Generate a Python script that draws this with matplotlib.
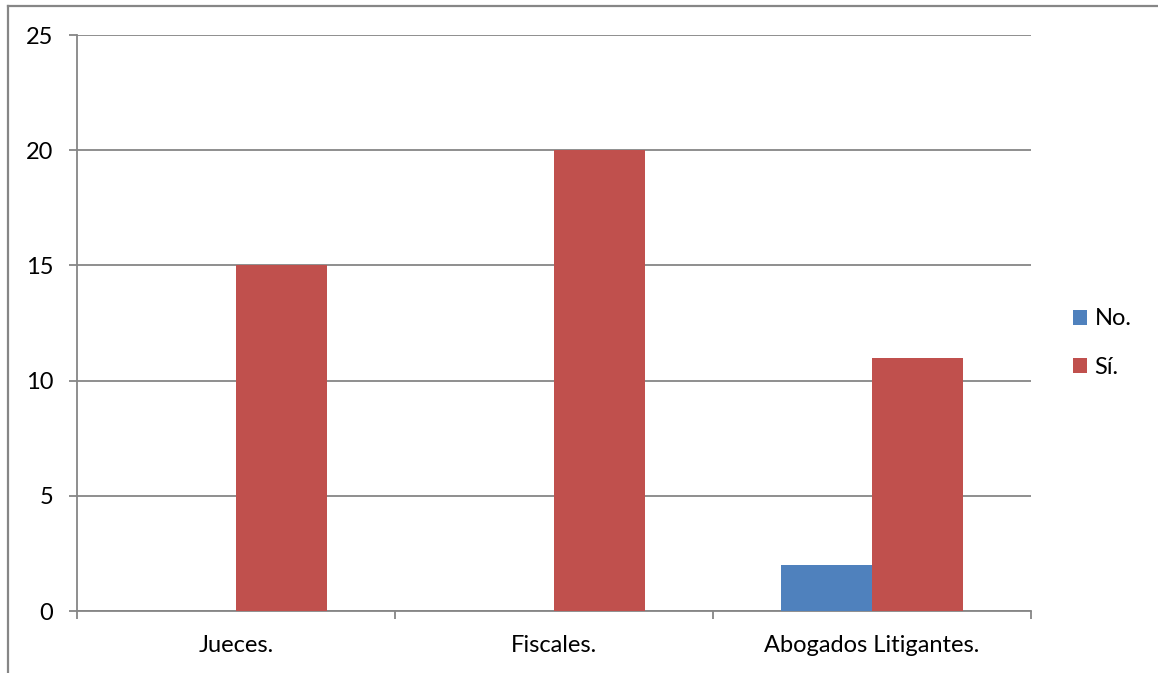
import matplotlib
matplotlib.use("Agg")
import matplotlib.pyplot as plt
from matplotlib.lines import Line2D
from matplotlib.patches import Patch
import numpy as np

categories = ["Jueces.", "Fiscales.", "Abogados Litigantes."]
series_names = ["No.", "Sí."]
no_values = [0, 0, 2]
si_values = [15, 20, 11]
y_ticks = [0, 5, 10, 15, 20, 25]

BLUE = "#4F81BD"
RED = "#C0504D"
GRID = "#868686"
FS = 17

plt.rcParams["font.family"] = ["Lato", "DejaVu Sans"]

W, H = 1158, 673
fig = plt.figure(figsize=(W / 100, H / 100), dpi=100)
ax = fig.add_axes([77 / W, 1 - 611 / H, (1031 - 77) / W, (611 - 35) / H])

x = np.arange(len(categories))
bw = 0.285
ax.bar(x - bw / 2, no_values, width=bw, color=BLUE, zorder=3)
ax.bar(x + bw / 2, si_values, width=bw, color=RED, zorder=3)

ax.set_xlim(-0.5, len(categories) - 0.5)
ax.set_ylim(0, 25)
ax.set_yticks(y_ticks)
ax.set_yticklabels([str(t) for t in y_ticks], fontsize=FS)
ax.yaxis.grid(True, color=GRID, linewidth=1.3, zorder=0)
ax.set_axisbelow(True)

# category labels between boundary ticks
ax.set_xticks(x)
ax.set_xticklabels(categories, fontsize=FS)
ax.tick_params(axis="x", length=0, pad=17)
ax.set_xticks(np.arange(len(categories) + 1) - 0.5, minor=True)
ax.tick_params(axis="x", which="minor", length=6, width=1.3, color=GRID, direction="out")
ax.tick_params(axis="y", length=6, width=1.3, color=GRID, direction="out", pad=11)

for s in ["top", "right"]:
    ax.spines[s].set_visible(False)
for s in ["left", "bottom"]:
    ax.spines[s].set_color(GRID)
    ax.spines[s].set_linewidth(1.3)

# chart frame (left and top edges)
fig.add_artist(Line2D([8 / W, 8 / W], [0, 1 - 6 / H], transform=fig.transFigure,
                      color=GRID, linewidth=1.6))
fig.add_artist(Line2D([8 / W, 1], [1 - 6 / H, 1 - 6 / H], transform=fig.transFigure,
                      color=GRID, linewidth=1.6))

handles = [Patch(facecolor=BLUE), Patch(facecolor=RED)]
fig.legend(handles, series_names, loc="center left",
           bbox_to_anchor=(1052 / W, 1 - 343 / H), frameon=False, fontsize=FS,
           handlelength=0.6, handleheight=0.6, handletextpad=0.3, labelspacing=1.15)

fig.savefig("out.png", dpi=100)
